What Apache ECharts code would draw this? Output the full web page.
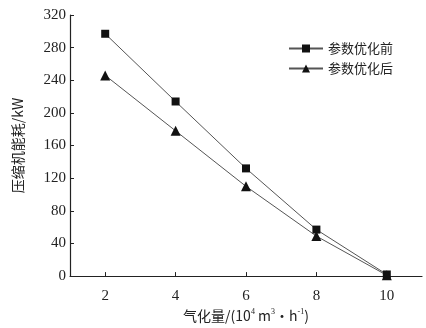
<!DOCTYPE html>
<html>
<head>
<meta charset="utf-8">
<script src="https://cdn.jsdelivr.net/npm/echarts@6/dist/echarts.min.js"></script>
<style>
  html, body { margin: 0; padding: 0; background: #fff; }
  #chart { width: 426px; height: 328px; }
</style>
</head>
<body>
<div id="chart"></div>
<script>
// Gasification rate (10^4 m3/h)
const gasRate = [2, 4, 6, 8, 10];
// Compressor power consumption (kW)
const beforeOpt = [297, 214, 132, 57, 2];
const afterOpt = [246, 178, 110, 49, 1];
const seriesNames = ['参数优化前', '参数优化后'];

const serif = 'Liberation Serif';
const cjk = 'Noto Sans CJK SC';

const chart = echarts.init(document.getElementById('chart'), null, { renderer: 'canvas' });

function pairs(xs, ys) { return xs.map((x, i) => [x, ys[i]]); }

chart.setOption({
  animation: false,
  backgroundColor: '#fff',
  grid: { left: 70, right: 4, top: 15, bottom: 51 },
  legend: {
    orient: 'vertical',
    left: 283,
    top: 37,
    itemGap: 7,
    itemWidth: 34,
    itemHeight: 10,
    textStyle: { fontFamily: cjk, fontSize: 13, color: '#222' },
    data: seriesNames
  },
  xAxis: {
    type: 'value',
    min: 1,
    max: 11,
    interval: 1,
    axisLine: { lineStyle: { color: '#222', width: 1.2 } },
    axisTick: {
      inside: true, length: 4, lineStyle: { color: '#222' },
      customValues: gasRate
    },
    axisLabel: {
      fontFamily: serif, fontSize: 15, color: '#222', margin: 12,
      customValues: gasRate
    },
    splitLine: { show: false },
    name: '{t|气化量/(10}{s|4}{t| m}{s|3}{t|·h}{s|-1}{t|)}',
    nameLocation: 'middle',
    nameGap: 31,
    nameTextStyle: {
      rich: {
        t: { fontFamily: cjk, fontSize: 14, color: '#222' },
        s: { fontFamily: serif, fontSize: 8, color: '#222', verticalAlign: 'top', padding: [0, 0, 8, 0] }
      }
    }
  },
  yAxis: {
    type: 'value',
    min: 0,
    max: 320,
    interval: 40,
    axisLine: { show: true, lineStyle: { color: '#222', width: 1.2 } },
    axisTick: { show: true, inside: true, length: 4, lineStyle: { color: '#222' } },
    axisLabel: { fontFamily: serif, fontSize: 15, color: '#222', margin: 4 },
    splitLine: { show: false },
    name: '压缩机能耗/kW',
    nameLocation: 'middle',
    nameGap: 45,
    nameRotate: 90,
    nameTextStyle: { fontFamily: cjk, fontSize: 14, color: '#222' }
  },
  series: [
    {
      name: seriesNames[0],
      type: 'line',
      data: pairs(gasRate, beforeOpt),
      symbol: 'rect',
      symbolSize: 8,
      itemStyle: { color: '#111' },
      lineStyle: { color: '#555', width: 1 }
    },
    {
      name: seriesNames[1],
      type: 'line',
      data: pairs(gasRate, afterOpt),
      symbol: 'triangle',
      symbolSize: 10,
      itemStyle: { color: '#111' },
      lineStyle: { color: '#555', width: 1 }
    }
  ]
});
</script>
</body>
</html>
